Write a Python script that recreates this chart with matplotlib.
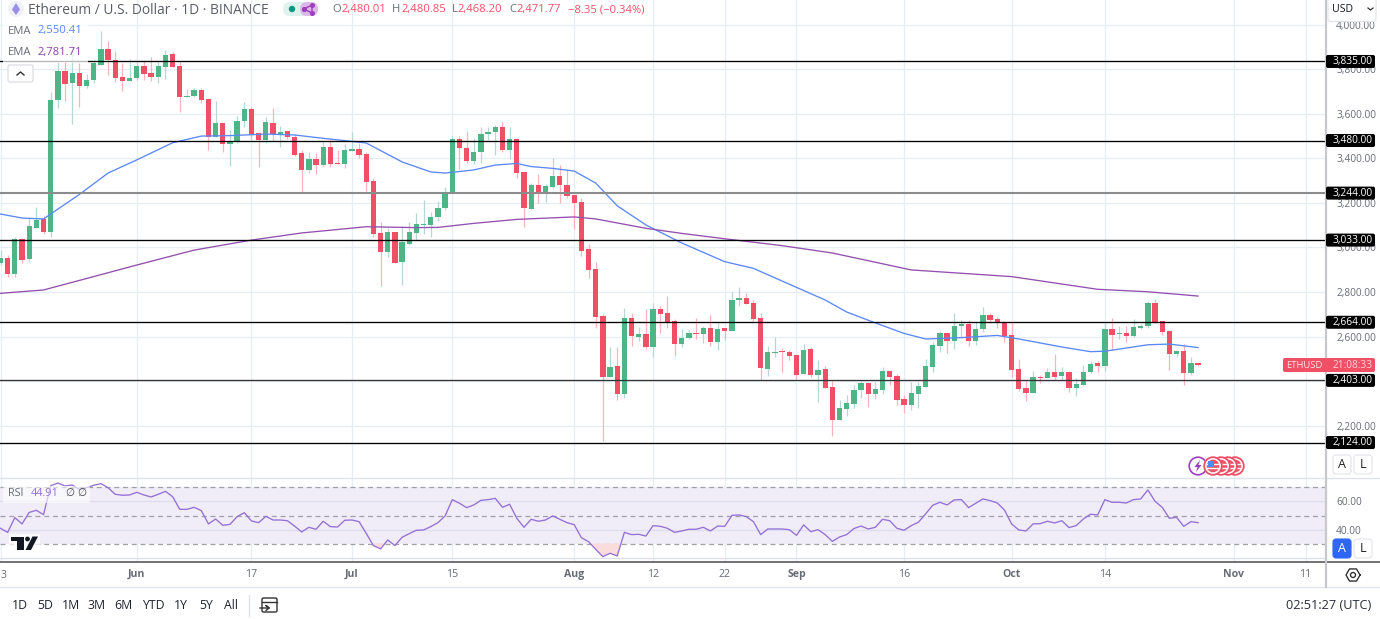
import matplotlib
matplotlib.use('Agg')
import matplotlib.pyplot as plt
import numpy as np
from matplotlib.patches import Rectangle, Circle, FancyBboxPatch, Polygon

plt.rcParams['font.family'] = ['Open Sans', 'DejaVu Sans']

# daily candles, day 0 = 13 May, day 84 = 5 Aug
opens = [2931, 2953, 2881, 3039, 2947, 3087, 3128, 3069, 3662, 3792,
         3737, 3782, 3726, 3750, 3821, 3891, 3843, 3765, 3747, 3761,
         3815, 3782, 3765, 3810, 3869, 3815, 3677, 3680, 3707, 3666,
         3496, 3559, 3466, 3479, 3566, 3623, 3512, 3481, 3559, 3509,
         3521, 3496, 3424, 3349, 3397, 3369, 3450, 3379, 3373, 3434,
         3442, 3420, 3298, 3063, 2981, 3069, 2933, 3017, 3066, 3101,
         3101, 3137, 3177, 3243, 3487, 3445, 3388, 3427, 3508, 3518,
         3541, 3439, 3486, 3339, 3174, 3279, 3244, 3271, 3321, 3280,
         3234, 3204, 2992, 2903, 2691, 2420, 2468, 2342, 2683, 2599,
         2613, 2554, 2722, 2706, 2668, 2568, 2593, 2616, 2610, 2638,
         2575, 2637, 2623, 2764, 2772, 2752, 2683, 2456, 2527, 2535,
         2531, 2517, 2430, 2543, 2427, 2454, 2372, 2225, 2276, 2297,
         2360, 2391, 2342, 2361, 2445, 2423, 2318, 2294, 2342, 2375,
         2465, 2557, 2616, 2581, 2646, 2658, 2579, 2634, 2697, 2679,
         2664, 2607, 2453, 2369, 2348, 2418, 2415, 2441, 2423, 2441,
         2369, 2382, 2439, 2481, 2468, 2634, 2611, 2614, 2601, 2638,
         2646, 2749, 2670, 2623, 2520, 2535, 2436, 2480.01]
closes = [2954, 2881, 3037, 2944, 3095, 3123, 3069, 3662, 3792, 3735,
          3785, 3726, 3752, 3827, 3890, 3840, 3762, 3747, 3762, 3815,
          3779, 3765, 3815, 3864, 3812, 3675, 3681, 3707, 3662, 3496,
          3559, 3466, 3479, 3568, 3623, 3508, 3481, 3563, 3511, 3520,
          3496, 3416, 3349, 3397, 3369, 3450, 3376, 3375, 3436, 3441,
          3416, 3292, 3059, 2981, 3069, 2930, 3024, 3069, 3104, 3105,
          3137, 3177, 3249, 3487, 3446, 3388, 3427, 3508, 3520, 3541,
          3439, 3486, 3334, 3176, 3279, 3249, 3276, 3321, 3279, 3231,
          3201, 2984, 2900, 2688, 2420, 2465, 2342, 2683, 2601, 2613,
          2554, 2722, 2702, 2664, 2568, 2592, 2616, 2610, 2638, 2575,
          2632, 2623, 2764, 2772, 2746, 2680, 2459, 2532, 2531, 2532,
          2513, 2427, 2539, 2426, 2451, 2369, 2225, 2278, 2300, 2360,
          2391, 2342, 2364, 2445, 2420, 2315, 2294, 2345, 2378, 2468,
          2562, 2616, 2581, 2647, 2655, 2579, 2635, 2697, 2674, 2659,
          2601, 2450, 2364, 2348, 2417, 2415, 2441, 2418, 2441, 2369,
          2387, 2439, 2477, 2468, 2634, 2607, 2616, 2602, 2643, 2649,
          2750, 2664, 2620, 2520, 2535, 2436, 2481, 2471.77]
highs = [2988, 2966, 3048, 3044, 3132, 3183, 3141, 3698, 3833, 3833,
         3949, 3828, 3779, 3842, 3972, 3927, 3882, 3827, 3845, 3833,
         3838, 3854, 3831, 3886, 3879, 3838, 3710, 3716, 3716, 3666,
         3658, 3559, 3527, 3592, 3652, 3632, 3514, 3587, 3627, 3545,
         3523, 3509, 3437, 3427, 3423, 3475, 3482, 3437, 3464, 3520,
         3469, 3430, 3314, 3113, 3086, 3069, 3096, 3114, 3156, 3213,
         3160, 3210, 3270, 3500, 3499, 3523, 3490, 3542, 3542, 3550,
         3563, 3542, 3490, 3339, 3288, 3330, 3285, 3400, 3370, 3352,
         3235, 3221, 3015, 2933, 2700, 2554, 2554, 2727, 2704, 2644,
         2722, 2752, 2738, 2782, 2677, 2634, 2629, 2684, 2647, 2697,
         2662, 2638, 2800, 2821, 2797, 2764, 2704, 2557, 2599, 2547,
         2539, 2517, 2565, 2552, 2495, 2468, 2405, 2315, 2337, 2382,
         2402, 2391, 2397, 2465, 2445, 2432, 2337, 2397, 2397, 2498,
         2577, 2625, 2616, 2704, 2674, 2674, 2667, 2734, 2707, 2689,
         2665, 2664, 2500, 2405, 2445, 2427, 2457, 2520, 2465, 2445,
         2414, 2472, 2490, 2490, 2659, 2684, 2649, 2649, 2679, 2656,
         2759, 2768, 2670, 2625, 2539, 2566, 2507, 2480.85]
lows = [2921, 2867, 2867, 2930, 2936, 3087, 3060, 3048, 3627, 3658,
        3554, 3632, 3715, 3738, 3819, 3774, 3744, 3704, 3747, 3752,
        3752, 3747, 3737, 3758, 3810, 3609, 3675, 3675, 3649, 3437,
        3496, 3427, 3367, 3468, 3542, 3482, 3360, 3468, 3479, 3451,
        3486, 3411, 3246, 3336, 3330, 3362, 3362, 3375, 3355, 3434,
        3402, 3253, 3048, 2827, 2958, 2930, 2830, 3010, 3033, 3060,
        3048, 3120, 3168, 3243, 3351, 3379, 3373, 3381, 3482, 3415,
        3427, 3396, 3313, 3093, 3174, 3201, 3205, 3266, 3198, 3221,
        3081, 2963, 2864, 2640, 2132, 2420, 2315, 2325, 2557, 2581,
        2545, 2509, 2617, 2637, 2513, 2554, 2590, 2590, 2572, 2557,
        2539, 2584, 2623, 2737, 2746, 2671, 2405, 2423, 2509, 2439,
        2495, 2408, 2430, 2420, 2307, 2369, 2153, 2225, 2245, 2280,
        2325, 2285, 2321, 2341, 2382, 2293, 2255, 2270, 2278, 2375,
        2442, 2532, 2527, 2543, 2599, 2557, 2562, 2622, 2659, 2637,
        2577, 2417, 2357, 2312, 2345, 2393, 2412, 2405, 2405, 2351,
        2334, 2382, 2438, 2442, 2445, 2539, 2590, 2577, 2599, 2635,
        2637, 2659, 2607, 2450, 2509, 2382, 2427, 2468.20]

ema_fast_days = [0, 3, 6, 7, 11, 15, 19, 24, 28, 32, 37, 41, 45, 51, 56, 60, 62, 66, 69, 72, 74, 77,
                 80, 83, 86, 90, 95, 101, 105, 109, 115, 118, 122, 126, 129, 134, 139, 142, 148,
                 152, 154, 160, 163, 167]
ema_fast = [3150, 3132, 3128, 3150, 3238, 3334, 3393, 3470, 3500, 3502, 3509, 3505, 3490, 3469, 3384,
            3339, 3334, 3348, 3370, 3377, 3363, 3355, 3343, 3289, 3187, 3101, 3020, 2936, 2906, 2849,
            2764, 2710, 2661, 2614, 2589, 2595, 2605, 2589, 2553, 2532, 2534, 2563, 2566, 2550.41]
ema_slow_days = [0, 6, 11, 19, 27, 35, 42, 51, 58, 61, 66, 72, 80, 83, 86, 90, 95, 101, 109, 116,
                 127, 141, 153, 160, 167]
ema_slow = [2794, 2809, 2852, 2921, 2988, 3033, 3065, 3093, 3089, 3090, 3108, 3126, 3137, 3128, 3110,
            3086, 3063, 3039, 3008, 2975, 2899, 2869, 2812, 2801, 2781.71]

rsi = [40.9, 38.0, 48.5, 44.0, 52.2, 53.7, 50.6, 71.2, 73.1, 71.0,
       71.7, 68.6, 69.8, 71.5, 72.7, 69.8, 65.1, 64.4, 64.6, 66.5,
       64.6, 63.2, 65.1, 67.2, 63.4, 54.4, 54.4, 55.8, 53.5, 44.0,
       47.5, 43.0, 43.7, 49.2, 52.0, 46.1, 44.9, 49.4, 46.8, 46.8,
       46.3, 42.5, 38.3, 41.6, 40.2, 45.9, 42.1, 41.8, 46.6, 46.8,
       45.6, 37.3, 28.6, 26.2, 32.6, 28.6, 34.5, 37.1, 39.5, 39.7,
       42.1, 44.9, 49.7, 61.3, 58.7, 55.6, 57.5, 60.8, 61.3, 62.2,
       55.8, 58.0, 48.0, 41.6, 47.3, 45.9, 46.8, 49.7, 47.3, 44.9,
       43.5, 34.2, 31.4, 25.9, 20.7, 23.1, 21.2, 38.0, 36.4, 36.6,
       35.4, 42.8, 42.3, 40.9, 38.0, 39.0, 40.2, 40.2, 41.6, 39.0,
       42.5, 42.3, 50.1, 50.4, 49.2, 45.6, 36.4, 40.4, 40.4, 40.4,
       39.9, 35.9, 43.3, 38.5, 39.9, 36.4, 31.6, 34.7, 36.4, 40.7,
       42.5, 40.4, 41.6, 47.3, 46.3, 40.9, 39.5, 42.8, 45.2, 51.1,
       57.3, 59.4, 57.5, 61.1, 61.3, 55.6, 58.7, 61.8, 60.6, 58.9,
       53.9, 44.0, 39.7, 39.0, 44.0, 44.2, 45.9, 44.7, 46.3, 41.4,
       42.8, 47.5, 50.9, 50.4, 61.3, 59.4, 59.4, 58.9, 61.3, 61.8,
       68.2, 60.1, 55.8, 48.0, 48.7, 42.3, 45.6, 44.91]

levels = [3835, 3480, 3244, 3033, 2664, 2403, 2124]
level_colors = ['#000000', '#000000', '#8c8c8c', '#000000', '#000000', '#333333', '#000000']
price_ticks = [2200, 2400, 2600, 2800, 3000, 3200, 3400, 3600, 3800, 4000]
hidden_price_ticks = [2400]  # fully under the 2,403.00 tag
rsi_ticks = [40, 60]
rsi_grid = [20, 40, 60]
rsi_bands = [30, 50, 70]
# the first label is cut by the window in the reference, only its last digit shows
tick_days = [0, 19, 35, 49, 63, 80, 91, 101, 111, 126, 141, 154, 172, 182]
tick_names = ['', 'Jun', '17', 'Jul', '15', 'Aug', '12', '22', 'Sep', '16', 'Oct', '14', 'Nov', '11']
ranges = ['1D', '5D', '1M', '3M', '6M', 'YTD', '1Y', '5Y', 'All']
range_x = [20, 45, 71, 97, 123, 153, 181, 206, 231]

GREEN = '#4fb587'
RED = '#ef5066'
GRID = '#e6eef3'
TEXT = '#686b76'

W, H = 1380, 619
fig = plt.figure(figsize=(W / 100, H / 100), dpi=100)
ax = fig.add_axes([0, 1 - 478 / H, 1325 / W, 478 / H])
ax_rsi = fig.add_axes([0, 1 - 562 / H, 1325 / W, 84 / H], sharex=ax)

days = np.arange(len(opens))
o, h, l, c = map(np.array, (opens, highs, lows, closes))
up = c >= o

# candles
ax.vlines(days[up], l[up], h[up], color='#b5d8d6', linewidth=0.9, zorder=3)
ax.vlines(days[~up], l[~up], h[~up], color='#f8b3bd', linewidth=0.9, zorder=3)
ax.bar(days[up], (c - o)[up], bottom=o[up], width=0.74, color=GREEN, linewidth=0, zorder=3.2)
ax.bar(days[~up], (c - o)[~up], bottom=o[~up], width=0.74, color=RED, linewidth=0, zorder=3.2)

ax.plot(ema_fast_days, ema_fast, color='#5b88f8', linewidth=0.95, zorder=4)
ax.plot(ema_slow_days, ema_slow, color='#9350b0', linewidth=0.95, zorder=4)

for lev, col in zip(levels, level_colors):
    ax.axhline(lev, color=col, linewidth=1.5 if lev == 3244 else 0.95, zorder=5)

ax.set_xlim(-0.07, 184.7)
ax.set_ylim(4111 - 4.49 * 478, 4111)
ax.set_yticks(price_ticks)
ax.set_yticklabels(['' if p in hidden_price_ticks else f'{p:,.2f}' for p in price_ticks])
ax.yaxis.tick_right()
ax.tick_params(axis='y', length=0, pad=8, labelsize=7.3, labelcolor=TEXT)
ax.tick_params(axis='x', length=0, labelbottom=False)
ax.grid(True, color=GRID, linewidth=0.9, zorder=0)
ax.set_axisbelow(True)

# rsi pane
rsi_arr = np.array(rsi)
ax_rsi.axhspan(30, 70, color='#f0ecf8', linewidth=0, zorder=1)
for v in rsi_grid:
    ax_rsi.axhline(v, color='#dcdff0', linewidth=0.9, zorder=1.5)
for v in rsi_bands:
    ax_rsi.axhline(v, color='#a0a0a6', linewidth=0.9, linestyle=(0, (4, 3)), zorder=2)
ax_rsi.fill_between(days, rsi_arr, 30, where=rsi_arr < 30, interpolate=True, color='#fbdcdc', linewidth=0, zorder=2.5)
ax_rsi.plot(days, rsi, color='#9270d6', linewidth=0.95, zorder=3)
ax_rsi.set_ylim(50 + (515.5 - 562) / 1.405, 50 + (515.5 - 478) / 1.405)
ax_rsi.set_yticks(rsi_ticks)
ax_rsi.set_yticklabels([f'{v:.2f}' for v in rsi_ticks])
ax_rsi.yaxis.tick_right()
ax_rsi.tick_params(axis='y', length=0, pad=8, labelsize=7.3, labelcolor=TEXT)
ax_rsi.set_xticks(tick_days)
ax_rsi.set_xticklabels(tick_names)
ax_rsi.tick_params(axis='x', length=0, pad=5, labelsize=7.6, labelcolor=TEXT)
for lab in ax_rsi.get_xticklabels():
    if lab.get_text().isalpha():
        lab.set_fontweight('bold')
ax_rsi.xaxis.grid(True, color=GRID, linewidth=0.9, zorder=0)
ax_rsi.set_axisbelow(True)

for a in (ax, ax_rsi):
    for s in a.spines.values():
        s.set_visible(False)

# everything that is screen furniture sits on a pixel overlay
ov = fig.add_axes([0, 0, 1, 1], zorder=5)
ov.set_xlim(0, W)
ov.set_ylim(H, 0)
ov.axis('off')
ov.patch.set_alpha(0)


def px(x, y, s, color=TEXT, size=8.1, ha='left', weight='normal'):
    # open sans sits a little high when centred
    ov.text(x, y + 1, s, color=color, fontsize=size, ha=ha, va='center', fontweight=weight, zorder=12)


def price_y(p):
    return (4111 - p) / 4.49


ov.plot([0, W], [478, 478], color='#e0e3eb', linewidth=1)
ov.plot([0, W], [562, 562], color='#4a4a50', linewidth=1.1)
ov.plot([0, W], [587, 587], color='#e3e6ec', linewidth=1)
ov.plot([1325.5, 1325.5], [0, 587], color='#c6c8cc', linewidth=1.6)

px(0.5, 574, '3', size=7.6)

# level price labels
for lev in levels:
    y = price_y(lev)
    ov.add_patch(FancyBboxPatch((1326, y - 6.5), 49, 13, boxstyle='round,pad=0,rounding_size=2',
                                fc='#000000', ec='none', zorder=10))
    px(1333, y - 1, f'{lev:,.2f}', color='#ffffff', size=7.3)

# last price tag
ov.add_patch(FancyBboxPatch((1283, 358), 92, 14, boxstyle='round,pad=0,rounding_size=2', fc='#ef5066', ec='none', zorder=10))
px(1286, 364.5, 'ETHUSD', color='#ffe3e6', size=6.8)
px(1333, 364.5, '21:08:33', color='#ffd5da', size=7.3)

# header
ov.add_patch(Circle((16, 9), 8, fc='#eef0fb', ec='none', zorder=10))
ov.add_patch(Polygon([(16, 3), (20, 9.5), (16, 15), (12, 9.5)], fc='#9a8fe8', ec='none', zorder=11))
px(28, 9, 'Ethereum / U.S. Dollar · 1D · BINANCE', color='#5a5d68', size=9.95)
ov.add_patch(FancyBboxPatch((283, 2), 35, 14, boxstyle='round,pad=0,rounding_size=7', fc='#dff3ee', ec='none', zorder=10))
ov.add_patch(FancyBboxPatch((300, 2), 18, 14, boxstyle='round,pad=0,rounding_size=7', fc='#dcb8e8', ec='none', zorder=11))
ov.add_patch(Circle((292, 9), 3.2, fc='#089981', ec='none', zorder=12))
ov.plot([304, 312, 312, 304], [9, 5, 13, 9], color='#a03ec0', linewidth=1, zorder=12, marker='o', markersize=2.6)

ohlc = [(332, 'O', 341.5, '2,480.01'), (391.5, 'H', 401, '2,480.85'),
        (451.5, 'L', 458, '2,468.20'), (509, 'C', 516.5, '2,471.77')]
for xl, name, xv, val in ohlc:
    px(xl, 8.5, name, color='#6a6d78', size=8.1)
    px(xv, 8.5, val, color='#ef5066', size=8.1)
px(567.5, 8.5, '−8.35 (−0.34%)', color='#ef5066', size=8.1)

# indicator legends
ov.add_patch(Rectangle((3, 23), 85, 39.5, fc='#ffffff', alpha=0.72, ec='none', zorder=9))
px(8, 30, 'EMA')
px(37, 30, '2,550.41', color='#5b88f8')
px(8, 51.5, 'EMA')
px(37, 51.5, '2,781.71', color='#8e3fae')
ov.add_patch(FancyBboxPatch((8, 65), 25, 17, boxstyle='round,pad=0,rounding_size=2', fc='#ffffff', ec='#d8dae0', linewidth=0.8, zorder=10))
ov.plot([17, 20.5, 24], [75, 72, 75], color='#333333', linewidth=1, zorder=11)
ov.add_patch(Rectangle((3, 486), 87, 17, fc='#ffffff', alpha=0.6, ec='none', zorder=9))
px(8, 493, 'RSI', size=7.8)
px(31, 493, '44.91', color='#9270d6', size=7.8)
px(65, 493, '∅', color='#444444', size=7.6)
px(77, 493, '∅', color='#444444', size=7.6)

# tv logo
ov.add_patch(Rectangle((9, 534), 31, 18, fc='#ffffff', alpha=0.75, ec='none', zorder=9))
ov.add_patch(Polygon([(11, 536.5), (24, 536.5), (24, 550), (17, 550), (17, 541), (11, 541)], fc='#131722', ec='none', zorder=10))
ov.add_patch(Circle((27.5, 539), 2.4, fc='#131722', ec='none', zorder=10))
ov.add_patch(Polygon([(32.5, 536.5), (38, 536.5), (31, 550), (25.5, 550)], fc='#131722', ec='none', zorder=10))

# event markers
ov.add_patch(Circle((1198, 466), 8.8, fc='#ffffff', ec='#a03ec0', linewidth=1.2, zorder=10))
ov.add_patch(Polygon([(1200, 460), (1194.5, 467), (1197.5, 467), (1196, 472), (1201.5, 465), (1198.5, 465)],
                     fc='#a03ec0', ec='none', zorder=10.05))
for i, cx in enumerate([1235, 1228, 1221, 1213]):
    z = 10.1 + i * 0.1
    ov.add_patch(Circle((cx, 466), 8.8, fc='#ffffff', ec='#ef5066', linewidth=1.3, zorder=z))
    ov.add_patch(Circle((cx, 466), 6.3, fc='#ef5066', ec='none', zorder=z + 0.01))
    ov.plot([cx - 6, cx + 6], [464, 464], color='#ffffff', linewidth=1, zorder=z + 0.02)
    ov.plot([cx - 6, cx + 6], [468, 468], color='#ffffff', linewidth=1, zorder=z + 0.02)
ov.add_patch(Rectangle((1208, 461), 5.5, 5.5, fc='#4a90e2', ec='none', zorder=10.6))

# right side buttons
for x0, y0, s, active in [(1333, 455, 'A', False), (1354, 455, 'L', False), (1333, 539, 'A', True), (1354, 539, 'L', False)]:
    ov.add_patch(FancyBboxPatch((x0, y0), 18, 19, boxstyle='round,pad=0,rounding_size=3',
                                fc='#2f66f5' if active else '#ffffff',
                                ec='#2f66f5' if active else '#e0e3eb', linewidth=0.8, zorder=10))
    px(x0 + 9, y0 + 8.5, s, color='#ffffff' if active else '#222222', size=9, ha='center')

# usd box, it sits over the top price label
ov.add_patch(FancyBboxPatch((1328, -4), 48, 25.5, boxstyle='round,pad=0,rounding_size=3', fc='#ffffff', ec='#e0e3eb', linewidth=0.8, zorder=10))
px(1332, 8, 'USD', color='#131722', size=7.6)
ov.plot([1368, 1370.5, 1373], [8, 10, 8], color='#333333', linewidth=0.9, zorder=11)

# settings icon
ang = np.deg2rad(np.arange(0, 361, 60))
ov.plot(1353 + 7 * np.cos(ang), 575 + 7 * np.sin(ang), color='#333333', linewidth=1, zorder=11)
ov.add_patch(Circle((1353, 575), 2.5, fc='none', ec='#333333', linewidth=1, zorder=11))

# bottom toolbar
for x, s in zip(range_x, ranges):
    px(x, 604.5, s, color='#1f2330', size=8.8, ha='center')
ov.plot([248.5, 248.5], [595, 616], color='#e0e3eb', linewidth=1)
ov.add_patch(FancyBboxPatch((262, 598), 15, 14, boxstyle='round,pad=0,rounding_size=1.5', fc='none', ec='#333333', linewidth=1, zorder=11))
ov.plot([262, 277], [602, 602], color='#333333', linewidth=1, zorder=11)
ov.plot([260, 269, 266, 269, 266], [608, 608, 605.5, 608, 610.5], color='#333333', linewidth=1, zorder=12)
px(1371, 604.5, '02:51:27 (UTC)', color='#2a2e39', size=9.2, ha='right')

plt.savefig('out.png', dpi=100)
